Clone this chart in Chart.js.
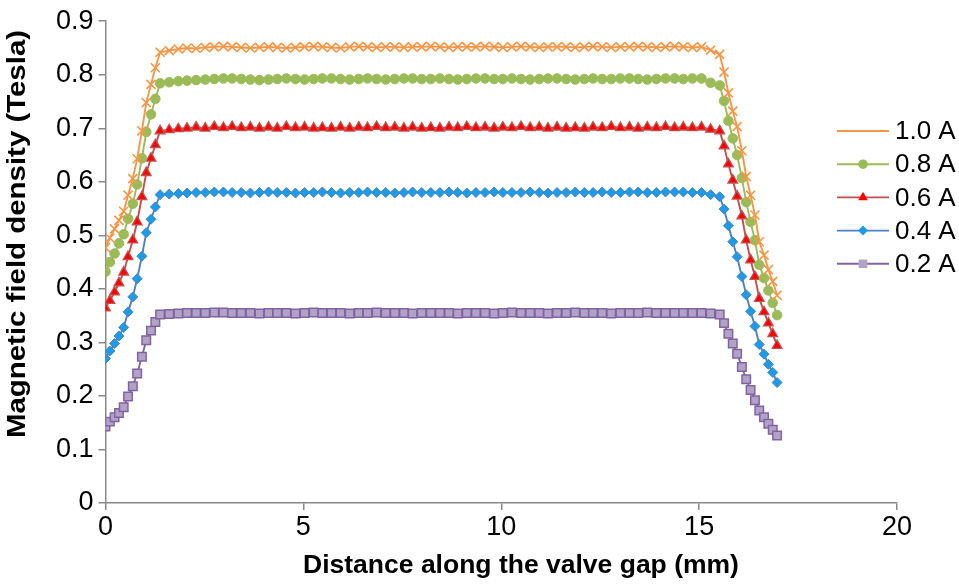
<!DOCTYPE html>
<html>
<head>
<meta charset="utf-8">
<script src="https://cdn.jsdelivr.net/npm/chart.js@4.4.1/dist/chart.umd.min.js"></script>
<style>
  html, body { margin: 0; padding: 0; background: #ffffff; }
  #wrap { width: 959px; height: 584px; position: relative; }
</style>
</head>
<body>
<div id="wrap"><canvas id="c" width="959" height="584"></canvas></div>
<script>
// ---- Data ----
const seriesNames = ['1.0 A', '0.8 A', '0.6 A', '0.4 A', '0.2 A'];

// Distance along the valve gap (mm)
const distance = [
  0, 0.11, 0.23, 0.34, 0.46, 0.57, 0.69, 0.80, 0.92, 1.03, 1.15, 1.26, 1.38,
  1.61, 1.84, 2.06, 2.29, 2.52, 2.75, 2.98, 3.20, 3.43, 3.66,
  3.89, 4.12, 4.34, 4.57, 4.80, 5.03, 5.26, 5.48, 5.71, 5.94,
  6.17, 6.40, 6.62, 6.85, 7.08, 7.31, 7.54, 7.76, 7.99, 8.22,
  8.45, 8.68, 8.90, 9.13, 9.36, 9.59, 9.82, 10.04, 10.27, 10.50,
  10.73, 10.96, 11.18, 11.41, 11.64, 11.87, 12.10, 12.32, 12.55, 12.78,
  13.01, 13.24, 13.46, 13.69, 13.92, 14.15, 14.38, 14.60, 14.83, 15.06,
  15.29, 15.52,
  15.63, 15.74, 15.85, 15.96, 16.08, 16.19, 16.30, 16.41, 16.52, 16.64, 16.75, 16.86, 16.97
];

const b10A = [
  0.477, 0.495, 0.512, 0.528, 0.545, 0.575, 0.606, 0.643, 0.695, 0.748, 0.782, 0.813, 0.842,
  0.845, 0.848, 0.850, 0.849, 0.851, 0.852, 0.853, 0.852, 0.851, 0.850,
  0.851, 0.852, 0.851, 0.850, 0.851, 0.852, 0.853, 0.852, 0.851, 0.850,
  0.852, 0.853, 0.852, 0.851, 0.852, 0.852, 0.851, 0.852, 0.852, 0.853,
  0.852, 0.851, 0.852, 0.852, 0.852, 0.853, 0.852, 0.851, 0.852, 0.853,
  0.852, 0.851, 0.852, 0.852, 0.852, 0.851, 0.852, 0.853, 0.852, 0.851,
  0.852, 0.852, 0.853, 0.852, 0.851, 0.852, 0.853, 0.852, 0.851, 0.852,
  0.846, 0.838,
  0.805, 0.766, 0.732, 0.703, 0.658, 0.610, 0.575, 0.538, 0.488, 0.463, 0.436, 0.414, 0.388
];

const b08A = [
  0.432, 0.450, 0.466, 0.485, 0.502, 0.531, 0.559, 0.595, 0.644, 0.693, 0.726, 0.755, 0.784,
  0.786, 0.788, 0.789, 0.790, 0.791, 0.792, 0.793, 0.793, 0.792, 0.791,
  0.790, 0.791, 0.792, 0.793, 0.792, 0.791, 0.792, 0.793, 0.793, 0.792,
  0.791, 0.792, 0.793, 0.792, 0.791, 0.792, 0.793, 0.793, 0.792, 0.792,
  0.793, 0.792, 0.791, 0.792, 0.793, 0.793, 0.792, 0.792, 0.793, 0.792,
  0.791, 0.792, 0.793, 0.793, 0.792, 0.791, 0.792, 0.793, 0.792, 0.792,
  0.793, 0.793, 0.792, 0.791, 0.792, 0.793, 0.793, 0.792, 0.793, 0.793,
  0.785, 0.780,
  0.751, 0.714, 0.681, 0.650, 0.607, 0.562, 0.525, 0.491, 0.445, 0.420, 0.397, 0.374, 0.351
];

const b06A = [
  0.364, 0.378, 0.394, 0.411, 0.431, 0.460, 0.491, 0.525, 0.572, 0.617, 0.644, 0.669, 0.695,
  0.697, 0.699, 0.700, 0.702, 0.700, 0.703, 0.701, 0.703, 0.701, 0.702,
  0.700, 0.702, 0.700, 0.703, 0.701, 0.702, 0.700, 0.701, 0.700, 0.702,
  0.700, 0.702, 0.701, 0.703, 0.701, 0.702, 0.700, 0.702, 0.700, 0.701,
  0.700, 0.702, 0.701, 0.703, 0.701, 0.702, 0.700, 0.702, 0.701, 0.703,
  0.701, 0.702, 0.700, 0.702, 0.700, 0.701, 0.700, 0.702, 0.701, 0.703,
  0.701, 0.702, 0.700, 0.702, 0.701, 0.703, 0.701, 0.702, 0.701, 0.702,
  0.698, 0.695,
  0.667, 0.633, 0.603, 0.573, 0.536, 0.491, 0.454, 0.423, 0.382, 0.357, 0.336, 0.316, 0.294
];

const b04A = [
  0.270, 0.284, 0.298, 0.312, 0.328, 0.357, 0.385, 0.419, 0.461, 0.505, 0.530, 0.553, 0.576,
  0.577, 0.578, 0.579, 0.580, 0.580, 0.581, 0.581, 0.580, 0.580, 0.579,
  0.580, 0.581, 0.580, 0.580, 0.579, 0.580, 0.580, 0.581, 0.580, 0.579,
  0.580, 0.580, 0.581, 0.580, 0.580, 0.579, 0.580, 0.581, 0.580, 0.580,
  0.580, 0.581, 0.580, 0.579, 0.580, 0.580, 0.581, 0.580, 0.580, 0.580,
  0.581, 0.580, 0.579, 0.580, 0.580, 0.581, 0.580, 0.580, 0.581, 0.580,
  0.580, 0.581, 0.581, 0.580, 0.580, 0.581, 0.581, 0.581, 0.580, 0.580,
  0.576, 0.572,
  0.549, 0.518, 0.488, 0.460, 0.423, 0.389, 0.358, 0.330, 0.296, 0.278, 0.259, 0.244, 0.225
];

const b02A = [
  0.143, 0.152, 0.160, 0.168, 0.179, 0.199, 0.218, 0.242, 0.273, 0.304, 0.322, 0.338, 0.352,
  0.353, 0.354, 0.355, 0.355, 0.355, 0.356, 0.356, 0.355, 0.355, 0.355,
  0.354, 0.355, 0.355, 0.355, 0.354, 0.355, 0.356, 0.355, 0.355, 0.355,
  0.354, 0.355, 0.355, 0.356, 0.355, 0.355, 0.355, 0.354, 0.355, 0.355,
  0.355, 0.355, 0.354, 0.355, 0.355, 0.355, 0.354, 0.355, 0.356, 0.355,
  0.355, 0.355, 0.354, 0.355, 0.355, 0.356, 0.355, 0.355, 0.355, 0.354,
  0.355, 0.355, 0.355, 0.356, 0.355, 0.355, 0.355, 0.355, 0.355, 0.355,
  0.354, 0.352,
  0.336, 0.316, 0.298, 0.279, 0.254, 0.231, 0.211, 0.192, 0.173, 0.160, 0.148, 0.137, 0.126
];

const xTickLabels = ['0', '5', '10', '15', '20'];
const yTickLabels = ['0', '0.1', '0.2', '0.3', '0.4', '0.5', '0.6', '0.7', '0.8', '0.9'];
const xTitle = 'Distance along the valve gap (mm)';
const yTitle = 'Magnetic field density (Tesla)';

// ---- Styles ----
const styles = [
  { line: '#F79646', fill: '#F79646', border: '#F79646', shape: 'crossRot', r: 6.4, bw: 1.6 },
  { line: '#9BBB59', fill: '#9BBB59', border: '#9BBB59', shape: 'circle', r: 4.8, bw: 1 },
  { line: '#C0504D', fill: '#FF0000', border: '#C0504D', shape: 'triangle', r: 5.6, bw: 1.3 },
  { line: '#4F81BD', fill: '#1C9BE6', border: '#4F81BD', shape: 'rectRot', r: 5.0, bw: 1 },
  { line: '#8064A2', fill: '#B3A2C7', border: '#8064A2', shape: 'rect', r: 6.0, bw: 1.5 }
];
const seriesValues = [b10A, b08A, b06A, b04A, b02A];

const FONT = '"Liberation Sans", Arial, sans-serif';

const datasets = seriesNames.map((name, k) => ({
  label: name,
  data: distance.map((x, i) => ({ x: x, y: seriesValues[k][i] })),
  borderColor: styles[k].line,
  backgroundColor: styles[k].fill,
  borderWidth: 1.9,
  pointStyle: styles[k].shape,
  pointRadius: styles[k].r,
  pointHoverRadius: styles[k].r,
  pointBackgroundColor: styles[k].fill,
  pointBorderColor: styles[k].border,
  pointBorderWidth: styles[k].bw,
  tension: 0,
  fill: false,
  order: k
}));

// Custom legend (line + marker + text), drawn on canvas
const legendPlugin = {
  id: 'lineLegend',
  afterDraw(chart) {
    const ctx = chart.ctx;
    const x0 = 837, x1 = 889, tx = 895;
    const yStart = 131, dy = 33.2;
    ctx.save();
    seriesNames.forEach((name, k) => {
      const y = yStart + k * dy;
      const s = styles[k];
      ctx.strokeStyle = s.line;
      ctx.lineWidth = 1.9;
      ctx.beginPath();
      ctx.moveTo(x0, y);
      ctx.lineTo(x1, y);
      ctx.stroke();
      ctx.fillStyle = s.fill;
      ctx.strokeStyle = s.border;
      ctx.lineWidth = s.bw;
      Chart.helpers.drawPoint(ctx, { pointStyle: s.shape, radius: s.r, rotation: 0 }, (x0 + x1) / 2, y);
      ctx.fillStyle = '#000000';
      ctx.font = '26px ' + FONT;
      ctx.textAlign = 'left';
      ctx.textBaseline = 'middle';
      ctx.fillText(name, tx, y + 1);
    });
    ctx.restore();
  }
};

// Axis titles
const titlePlugin = {
  id: 'axisTitles',
  afterDraw(chart) {
    const ctx = chart.ctx;
    ctx.save();
    ctx.fillStyle = '#000000';
    ctx.font = 'bold 26.5px ' + FONT;
    ctx.textAlign = 'center';
    ctx.textBaseline = 'middle';
    ctx.fillText(xTitle, 521, 566);
    ctx.translate(18, 234);
    ctx.rotate(-Math.PI / 2);
    ctx.scale(1.11, 1);
    ctx.fillText(yTitle, 0, 0);
    ctx.restore();
  }
};

new Chart(document.getElementById('c'), {
  type: 'line',
  data: { datasets: datasets },
  options: {
    responsive: false,
    animation: false,
    devicePixelRatio: 1,
    layout: { padding: { left: 0, right: 62, top: 18, bottom: 0 } },
    plugins: { legend: { display: false }, tooltip: { enabled: false } },
    scales: {
      x: {
        type: 'linear',
        min: 0, max: 20,
        afterFit(scale) { scale.height = 81; },
        afterBuildTicks(scale) { scale.ticks = xTickLabels.map(v => ({ value: Number(v) })); },
        ticks: {
          callback: (v) => xTickLabels[xTickLabels.indexOf(String(v))],
          color: '#000000',
          font: { family: FONT, size: 27 },
          padding: 1,
          maxRotation: 0
        },
        grid: { drawOnChartArea: false, drawTicks: true, tickLength: 7, color: '#888888', lineWidth: 1.5 },
        border: { display: true, color: '#888888', width: 1.5 }
      },
      y: {
        type: 'linear',
        min: 0, max: 0.9,
        afterFit(scale) { scale.width = 105.5; },
        afterBuildTicks(scale) { scale.ticks = yTickLabels.map(v => ({ value: Number(v) })); },
        ticks: {
          callback: (v, i) => yTickLabels[i],
          color: '#000000',
          font: { family: FONT, size: 27 },
          padding: 5
        },
        grid: { drawOnChartArea: false, drawTicks: true, tickLength: 7, color: '#888888', lineWidth: 1.5 },
        border: { display: true, color: '#888888', width: 1.5 }
      }
    }
  },
  plugins: [legendPlugin, titlePlugin]
});
</script>
</body>
</html>
